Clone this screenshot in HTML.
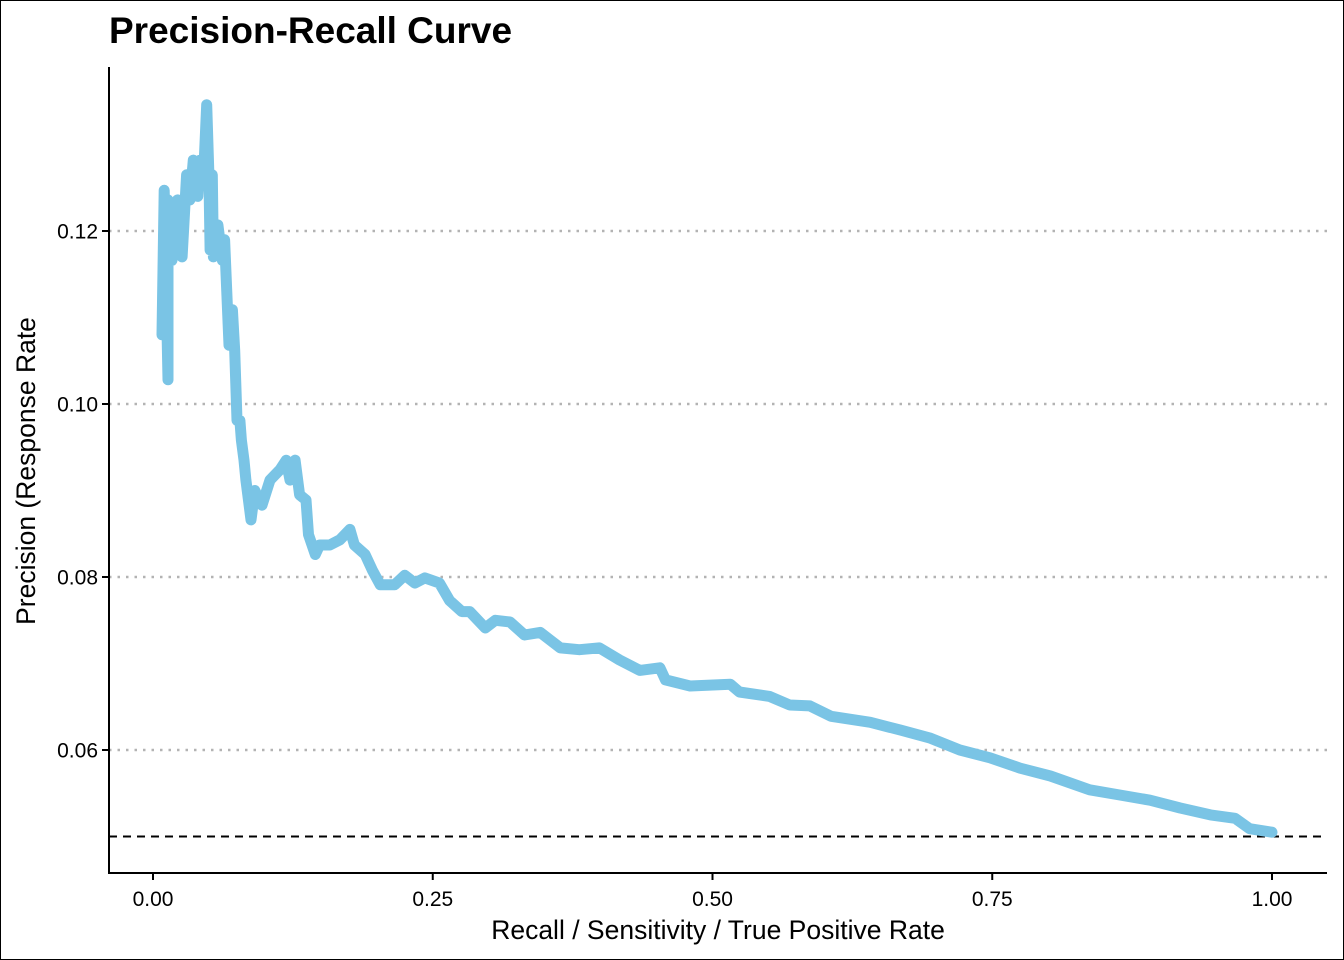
<!DOCTYPE html>
<html><head><meta charset="utf-8"><style>
html,body{margin:0;padding:0;background:#fff}
svg{display:block}
text{font-family:"Liberation Sans",Arial,sans-serif;fill:#000}
</style></head><body>
<svg id="chart" width="1344" height="960" xmlns="http://www.w3.org/2000/svg">
<rect x="0.5" y="0.5" width="1343" height="959" fill="#fff" stroke="#000" stroke-width="1"/>
<text x="109" y="43" font-size="37" font-weight="bold">Precision-Recall Curve</text>
<g id="grid"></g>
<g id="series"></g>
<g id="axes"></g>
<text x="718" y="939" font-size="26.5" text-anchor="middle">Recall / Sensitivity / True Positive Rate</text>
<text transform="translate(35,471) rotate(-90)" font-size="26.5" text-anchor="middle">Precision (Response Rate</text>
</svg>
<script>
const recall=[.008,.010,.0134,.0134,.017,.022,.026,.030,.033,.036,.040,.042,.045,.048,.050,.051,.053,.054,.058,.062,.064,.0679,.071,.073,.0751,.0777,.079,.0813,.083,.0876,.091,.0974,.1046,.1135,.119,.1224,.127,.131,.1367,.139,.145,.149,.158,.167,.176,.180,.1895,.196,.203,.216,.225,.234,.243,.256,.265,.276,.283,.297,.306,.319,.332,.346,.364,.381,.399,.417,.435,.453,.458,.480,.516,.524,.551,.569,.587,.606,.641,.668,.694,.721,.748,.775,.802,.837,.864,.891,.918,.945,.967,.980,1.0];
const precision=[.108,.1247,.1028,.1236,.1166,.1236,.117,.1265,.1236,.1282,.124,.1282,.1259,.1346,.1265,.1178,.1265,.117,.1207,.1166,.119,.1068,.1109,.1062,.0981,.0981,.0958,.0935,.0912,.0866,.09,.0883,.0912,.0924,.0935,.0912,.0935,.0895,.0889,.0849,.0826,.0837,.0837,.0843,.0855,.0837,.0826,.0808,.0791,.0791,.0802,.0793,.0799,.0793,.0773,.0760,.0760,.0741,.0750,.0748,.0733,.0736,.0718,.0716,.0718,.0704,.0692,.0695,.0681,.0674,.0676,.0667,.0662,.0652,.0651,.0639,.0632,.0623,.0614,.0600,.0591,.0579,.0570,.0554,.0548,.0542,.0533,.0525,.0521,.0509,.0505];
const xTicks=[0,0.25,0.5,0.75,1];
const xTickLabels=["0.00","0.25","0.50","0.75","1.00"];
const yTicks=[0.06,0.08,0.10,0.12];
const yTickLabels=["0.06","0.08","0.10","0.12"];
const baseline=[0.05];

const NS="http://www.w3.org/2000/svg";
const X0=109,X1=1327,Y0=67,Y1=873;
function sx(v){return 153+v*1119;}
function sy(v){return 231-(v-0.12)*8650;}
function mk(tag,attrs,parent){const e=document.createElementNS(NS,tag);for(const k in attrs)e.setAttribute(k,attrs[k]);parent.appendChild(e);return e;}
const grid=document.getElementById('grid'),series=document.getElementById('series'),axes=document.getElementById('axes');
yTicks.forEach((t,i)=>{
 const l=mk('line',{x1:X0,x2:X1,y1:sy(t),y2:sy(t),stroke:'#b3b3b3','stroke-width':2.5,'stroke-dasharray':'2.5 6'},grid);
 
 
});
baseline.forEach(b=>{
 const l=mk('line',{x1:X0,x2:X1,y1:sy(b),y2:sy(b),stroke:'#000','stroke-width':2,'stroke-dasharray':'8 6'},grid);
 
 
});
const pts=recall.map((r,i)=>sx(r).toFixed(1)+','+sy(precision[i]).toFixed(1)).join(' ');
const pl=mk('polyline',{points:pts,fill:'none',stroke:'#7AC4E5','stroke-width':11,'stroke-linejoin':'round','stroke-linecap':'round'},series);


const ya=mk('path',{d:`M${X0},${Y0}V${Y1}H${X1}`,fill:'none',stroke:'#000','stroke-width':2},axes);


xTicks.forEach((t,i)=>{
 const tk=mk('line',{x1:sx(t),x2:sx(t),y1:Y1,y2:Y1+7,stroke:'#000','stroke-width':2},axes);
 
 
 const tx=mk('text',{x:sx(t),y:906,'font-size':21,'text-anchor':'middle'},axes);
 tx.textContent=xTickLabels[i];
 
 
});
yTicks.forEach((t,i)=>{
 const tk=mk('line',{x1:X0-7,x2:X0,y1:sy(t),y2:sy(t),stroke:'#000','stroke-width':2},axes);
 
 
 const tx=mk('text',{x:X0-11,y:sy(t)+7.5,'font-size':21,'text-anchor':'end'},axes);
 tx.textContent=yTickLabels[i];
 
 
});
</script>
</body></html>
